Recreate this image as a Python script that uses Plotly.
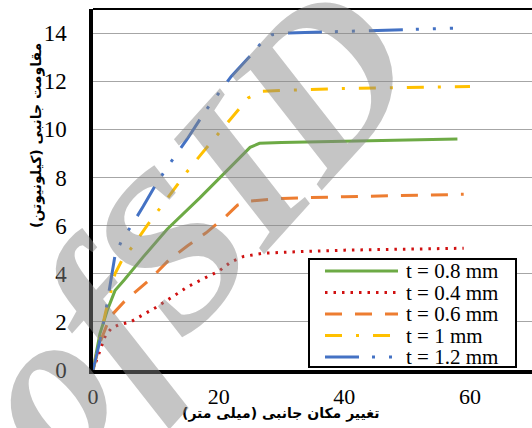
import plotly.graph_objects as go

# Lateral displacement (mm) vs lateral resistance (kN) for each sheet thickness
names = ["t = 0.8 mm", "t = 0.4 mm", "t = 0.6 mm", "t = 1 mm", "t = 1.2 mm"]
colors = ["#6DAA45", "#D01010", "#ED7D31", "#FFC000", "#4472C4"]
dashes = ["solid", "2.5px,6px", "17px,13px", "17px,14px,3px,14px", "34px,13px,3px,14px,3px,14px"]

x_08 = [0, 1.1, 2.3, 3.5, 5, 8, 11.8, 17, 21, 25, 26.5, 30, 40, 50, 58]
y_08 = [0, 1.5, 2.5, 3.3, 3.75, 4.7, 5.85, 7.15, 8.2, 9.25, 9.42, 9.45, 9.5, 9.55, 9.6]

x_04 = [0, 1, 2, 3, 4, 6, 8, 10, 13, 15, 18, 20, 22, 24, 27, 31, 40, 50, 59]
y_04 = [0, 0.75, 1.45, 1.75, 1.87, 2.0, 2.3, 2.6, 3.1, 3.45, 3.85, 4.1, 4.5, 4.72, 4.85, 4.9, 4.98, 5.02, 5.06]

x_06 = [0, 1.2, 2.7, 5, 9, 12, 15, 18, 21, 23, 25, 28, 30, 40, 50, 59]
y_06 = [0, 1.2, 2.2, 2.85, 3.75, 4.55, 5.15, 5.7, 6.35, 6.85, 7.02, 7.1, 7.13, 7.2, 7.25, 7.3]

x_10 = [0, 1, 2, 3, 3.5, 4.6, 6.2, 8.6, 11, 12.9, 15, 17.2, 20, 21.8, 24.7, 26.7, 30, 40, 50, 60]
y_10 = [0, 1.2, 2.4, 3.4, 4.0, 4.56, 5.1, 6.0, 6.85, 7.5, 8.25, 8.96, 9.85, 10.4, 11.3, 11.58, 11.62, 11.7, 11.74, 11.78]

x_12 = [0, 1, 2, 3, 3.5, 4.6, 6, 8, 10, 12, 15, 18, 20, 22, 25, 27, 28.5, 31, 40, 50, 57.3]
y_12 = [0, 1.1, 2.4, 3.85, 4.75, 5.4, 5.95, 6.8, 7.7, 8.5, 9.6, 10.8, 11.5, 12.2, 13.05, 13.65, 13.93, 14.0, 14.07, 14.13, 14.2]

xs = [x_08, x_04, x_06, x_10, x_12]
ys = [y_08, y_04, y_06, y_10, y_12]

x_ticks = [0, 20, 40, 60]
y_ticks = [0, 2, 4, 6, 8, 10, 12, 14]

x_title = "\u200fتغییر مکان جانبی (میلی متر)\u200f"
y_title = "\u200fمقاومت جانبی (کیلونیوتن)\u200f"
watermark = "ofSID"

W, H = 532, 428
L, R, T, B = 93, 0, 9, 58
PW, PH = W - L - R, H - T - B


def px_x(p):
    return (p - L) / PW


def px_y(p):
    return (H - B - p) / PH


fig = go.Figure()
for name, c, d, xv, yv in zip(names, colors, dashes, xs, ys):
    fig.add_trace(go.Scatter(x=xv, y=yv, mode="lines", name=name,
                             line=dict(color=c, width=3, dash=d),
                             showlegend=False))

serif = "Liberation Serif, Times New Roman, serif"

shapes = [
    # top frame line
    dict(type="line", xref="paper", yref="paper", x0=0, x1=1, y0=1, y1=1,
         line=dict(color="black", width=2)),
    # legend box
    dict(type="rect", xref="paper", yref="paper",
         x0=px_x(309), x1=px_x(516), y0=px_y(367), y1=px_y(259),
         fillcolor="white", line=dict(color="black", width=2), layer="above"),
]
annotations = []
row0, step = 271, 21.5
for i, (name, c, d) in enumerate(zip(names, colors, dashes)):
    yy = px_y(row0 + i * step)
    shapes.append(dict(type="line", xref="paper", yref="paper",
                       x0=px_x(325), x1=px_x(398), y0=yy, y1=yy,
                       line=dict(color=c, width=3, dash=d), layer="above"))
    annotations.append(dict(xref="paper", yref="paper", x=px_x(404), y=yy,
                            text=name, showarrow=False, xanchor="left",
                            yanchor="middle",
                            font=dict(family=serif, size=21, color="black")))

annotations.append(dict(xref="paper", yref="paper", x=px_x(280), y=px_y(413),
                        text="<b>" + x_title + "</b>", showarrow=False,
                        xanchor="center", yanchor="middle",
                        font=dict(family="DejaVu Sans", size=14, color="black")))
annotations.append(dict(xref="paper", yref="paper", x=px_x(36), y=px_y(135),
                        text="<b>" + y_title + "</b>", showarrow=False,
                        textangle=-90, xanchor="center", yanchor="middle",
                        font=dict(family="DejaVu Sans", size=14, color="black")))
annotations.append(dict(xref="paper", yref="paper", x=px_x(190), y=px_y(226),
                        text="<b>" + watermark + "</b>", showarrow=False,
                        textangle=-48,
                        xanchor="center", yanchor="middle",
                        font=dict(family=serif, size=220, style="italic",
                                  color="rgba(133,133,133,0.48)")))

fig.update_layout(
    width=W, height=H,
    margin=dict(l=L, r=R, t=T, b=B, pad=0),
    paper_bgcolor="white", plot_bgcolor="white",
    shapes=shapes, annotations=annotations,
    showlegend=False,
)
fig.update_xaxes(range=[0, PW / 6.283], tickvals=x_ticks,
                 ticktext=[str(v) for v in x_ticks],
                 showgrid=False, zeroline=False,
                 showline=True, linecolor="black", linewidth=3.5,
                 ticks="outside", ticklen=4, tickcolor="rgba(0,0,0,0)",
                 tickfont=dict(family=serif, size=22, color="black"))
fig.update_yaxes(range=[0, 15], tickvals=y_ticks,
                 ticktext=[str(v) for v in y_ticks],
                 showgrid=True, gridcolor="#A6A6A6", gridwidth=1.3,
                 zeroline=False,
                 showline=True, linecolor="black", linewidth=3.5,
                 ticks="outside", ticklen=18, tickcolor="rgba(0,0,0,0)",
                 tickfont=dict(family=serif, size=23, color="black"))

fig.write_html("out.html")
